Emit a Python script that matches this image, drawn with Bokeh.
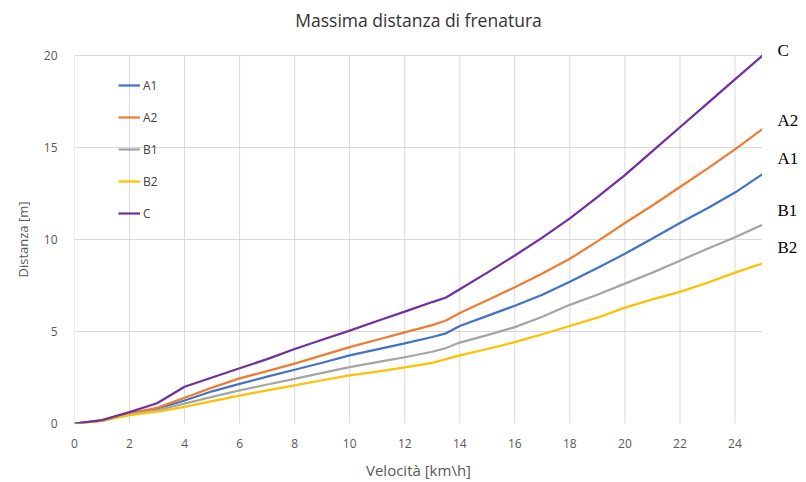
import math
from bokeh.plotting import figure
from bokeh.models import FixedTicker, Range1d, ColumnDataSource
from bokeh.layouts import row
from bokeh.core.properties import value
from bokeh.embed import file_html
from bokeh.resources import INLINE

# ---- data ----
velocita = [0, 1, 2, 3, 4, 5, 6, 7, 8, 9, 10, 11, 12, 13, 13.5, 14, 15, 16, 17, 18, 19, 20, 21, 22, 23, 24, 25]
C  = [0, 0.18, 0.62, 1.1, 2.0, 2.5, 3.0, 3.5, 4.05, 4.55, 5.05, 5.57, 6.08, 6.6, 6.85, 7.3, 8.2, 9.13, 10.1, 11.15, 12.3, 13.5, 14.8, 16.1, 17.4, 18.7, 20.0]
A2 = [0, 0.16, 0.55, 0.85, 1.4, 1.95, 2.45, 2.85, 3.25, 3.7, 4.15, 4.55, 4.95, 5.35, 5.6, 6.0, 6.7, 7.4, 8.15, 8.95, 9.9, 10.9, 11.85, 12.85, 13.85, 14.9, 16.0]
A1 = [0, 0.16, 0.52, 0.8, 1.25, 1.75, 2.15, 2.55, 2.92, 3.3, 3.7, 4.03, 4.35, 4.7, 4.9, 5.3, 5.85, 6.4, 7.0, 7.7, 8.45, 9.22, 10.05, 10.9, 11.7, 12.55, 13.55]
B1 = [0, 0.15, 0.5, 0.72, 1.08, 1.45, 1.8, 2.12, 2.43, 2.75, 3.06, 3.33, 3.6, 3.9, 4.1, 4.4, 4.8, 5.24, 5.8, 6.45, 7.0, 7.6, 8.2, 8.85, 9.5, 10.12, 10.8]
B2 = [0, 0.14, 0.45, 0.65, 0.9, 1.22, 1.52, 1.8, 2.07, 2.35, 2.61, 2.82, 3.05, 3.3, 3.5, 3.7, 4.05, 4.42, 4.85, 5.3, 5.75, 6.3, 6.75, 7.15, 7.65, 8.2, 8.7]
series_names = ["A1", "A2", "B1", "B2", "C"]
series_values = [A1, A2, B1, B2, C]
x_ticks = [0, 2, 4, 6, 8, 10, 12, 14, 16, 18, 20, 22, 24]
y_ticks = [0, 5, 10, 15, 20]
x_max = 25
y_max = 20
end_labels = ["C", "A2", "A1", "B1", "B2"]
title_text = "Massima distanza di frenatura"
x_label = "Velocità [km\\h]"
y_label = "Distanza [m]"

colors = {"A1": "#4472C4", "A2": "#ED7D31", "B1": "#A5A5A5", "B2": "#FFC000", "C": "#7030A0"}

H = 482
TOP, BOTTOM = 55, 59                      # pixel room above / below the data area
px_per_y = (H - TOP - BOTTOM) / y_max
yr = Range1d(0, y_max + TOP / px_per_y)   # extra headroom holds the title and the "C" label

# ---- main plot ----
p = figure(width=732, height=H, output_backend="svg", toolbar_location=None,
           x_range=Range1d(0, x_max), y_range=yr,
           min_border_left=44, min_border_right=0, min_border_top=0, min_border_bottom=BOTTOM)
p.outline_line_color = None
p.xgrid.visible = False
p.ygrid.grid_line_color = "#d9d9d9"
p.ygrid.ticker = FixedTicker(ticks=y_ticks)
p.segment(x0=x_ticks, y0=[0] * len(x_ticks), x1=x_ticks, y1=[y_max] * len(x_ticks),
          line_color="#d9d9d9", line_width=1)

for name, vals in zip(series_names, series_values):
    p.line(velocita, vals, line_color=colors[name], line_width=2.25, legend_label=name)

for ax in (p.xaxis[0], p.yaxis[0]):
    ax.axis_line_color = None
    ax.major_tick_line_color = None
    ax.minor_tick_line_color = None
    ax.major_tick_out = 0
    ax.major_tick_in = 0
    ax.minor_tick_out = 0
    ax.major_label_text_font = "Open Sans"
    ax.major_label_text_font_size = "12px"
    ax.major_label_text_color = "#595959"
    ax.axis_label_text_font = "Open Sans"
    ax.axis_label_text_font_size = "15px"
    ax.axis_label_text_font_style = "normal"
    ax.axis_label_text_color = "#595959"

p.xaxis.ticker = FixedTicker(ticks=x_ticks)
p.yaxis.ticker = FixedTicker(ticks=y_ticks)
p.xaxis.axis_label = x_label
p.xaxis.major_label_standoff = 15
p.xaxis.axis_label_standoff = 9
p.yaxis.major_label_standoff = 17

# title inside the headroom
p.text(x=[x_max / 2], y=[y_max + (TOP - 19) / px_per_y], text=[title_text],
       text_align="center", text_baseline="middle", text_font=value("Open Sans"),
       text_font_size="17.5px", text_color="#333333")

lg = p.legend[0]
lg.location = (44, 200)
lg.border_line_color = None
lg.background_fill_alpha = 0
lg.padding = 0
lg.margin = 0
lg.spacing = 12
lg.label_height = 20
lg.glyph_height = 20
lg.glyph_width = 22
lg.label_standoff = 3
lg.label_text_font = "Open Sans"
lg.label_text_font_size = "12px"
lg.label_text_color = "#404040"

# ---- strip with the y axis title (left) ----
ylab = figure(width=30, height=H, output_backend="svg", toolbar_location=None,
              x_range=Range1d(0, 30), y_range=yr, min_border=0,
              x_axis_location=None, y_axis_location=None)
ylab.outline_line_color = None
ylab.xgrid.visible = False
ylab.ygrid.visible = False
ylab.text(x=[22], y=[y_max / 2], text=[y_label], angle=math.pi / 2, text_align="center",
          text_baseline="middle", text_font=value("Open Sans"), text_font_size="13px",
          text_color="#595959")

# ---- strip with the end-of-line labels (right) ----
side = figure(width=44, height=H, output_backend="svg", toolbar_location=None,
              x_range=Range1d(0, 44), y_range=yr, min_border=0,
              x_axis_location=None, y_axis_location=None)
side.outline_line_color = None
side.xgrid.visible = False
side.ygrid.visible = False
label_y = [20.27, 16.47, 14.42, 11.58, 9.58]
src = ColumnDataSource(dict(x=[15] * len(end_labels), y=label_y, t=end_labels))
side.text(x="x", y="y", text="t", source=src, text_align="left", text_baseline="middle",
          text_font=value("Liberation Serif"), text_font_size="17px", text_color="#000000")

layout = row(ylab, p, side, spacing=0)
open("out.html", "w").write(file_html(layout, INLINE))
